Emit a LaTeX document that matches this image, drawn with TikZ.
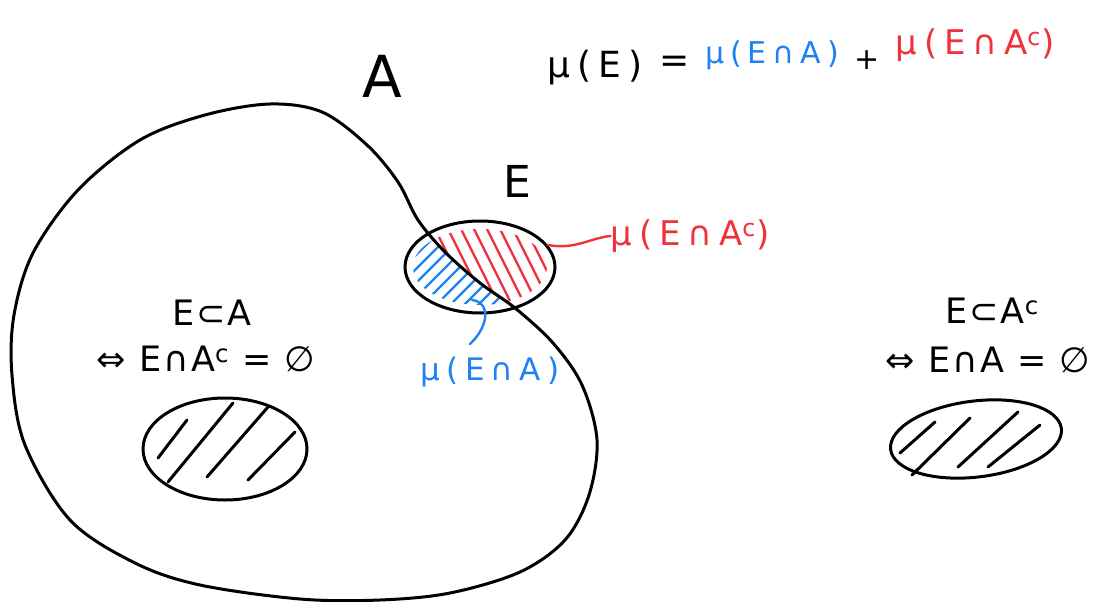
\documentclass[tikz,border=0pt]{standalone}
\usepackage{fontspec}
\setmainfont{DejaVu Sans}
\newfontfamily\hand[LetterSpace=20]{DejaVu Sans}
\newfontfamily\handt[LetterSpace=6]{DejaVu Sans}
\usetikzlibrary{shapes.geometric}
\definecolor{hblue}{RGB}{30,130,240}
\definecolor{hred}{RGB}{240,50,60}
\begin{document}
\begin{tikzpicture}[x=1pt,y=-1pt,line cap=round,line join=round,
  ink/.style={line width=3pt,black},
  hatch/.style={line width=2.4pt},
  lead/.style={line width=2.4pt},
  txt/.style={inner sep=0pt},
  eqs/.style={txt,font=\hand\fontsize{36}{40}\selectfont},
  lab/.style={txt,font=\hand\fontsize{34}{40}\selectfont},
  sets/.style={txt,font=\handt\fontsize{35}{42}\selectfont}]
\useasboundingbox (0,0) rectangle (1095,602);
\fill[white] (0,0) rectangle (1095,602);

% blob A outline (saved)
\path[save path=\blob] plot[smooth cycle,tension=0.55] coordinates {
 (140,140) (205,115) (270,104) (322,112) (367,145) (398,182) (418,220)
 (445,252) (480,283) (515,308) (553,343) (582,385) (597,440) (589,495)
 (565,540) (520,572) (450,593) (380,600) (300,599) (200,585) (135,563)
 (70,520) (25,445) (12,375) (14,315) (33,253) (78,190)};

% red hatching in E
\begin{scope}
 \clip (480,267) ellipse [x radius=67, y radius=38];
 \foreach \i in {-7,...,7}
   \draw[hred,hatch] ({480+\i*13-40},187) -- ({480+\i*13+40},347);
\end{scope}
% blue part (E inside A)
\begin{scope}
 \clip (480,267) ellipse [x radius=74, y radius=44];
 \clip[use path=\blob];
 \fill[white] (380,200) rectangle (580,340);
\end{scope}
\begin{scope}
 \clip (480,267) ellipse [x radius=67, y radius=38];
 \clip[use path=\blob];
 \foreach \i in {-7,...,7}
   \draw[hblue,hatch] ({460+\i*14-45},{267+45}) -- ({460+\i*14+45},{267-45});
\end{scope}

% outlines
\draw[ink,use path=\blob];
\node[draw,ellipse,ink,minimum width=150pt,minimum height=92pt,inner sep=0pt] (Eell) at (480,267) {};

% labels
\node[txt,font=\hand\fontsize{58}{64}\selectfont] (lA) at (382,76) {A};
\node[txt,font=\hand\fontsize{44}{50}\selectfont] (lE) at (517,181) {E};

% equation
\node[eqs] (eq1) at (595,68) {μ(E)};
\node[eqs] (eq2) at (675,64) {=};
\node[txt,font=\hand\fontsize{30}{36}\selectfont,text=hblue] (eq3) at (772,55) {μ(E∩A)};
\node[txt,font=\hand\fontsize{30}{36}\selectfont] (eq4) at (867,60) {+};
\node[lab,text=hred] (eq5) at (975,45) {μ(E∩A\textsuperscript{c})};

% region labels with leaders
\node[lab,text=hred] (lr) at (690,236) {μ(E∩A\textsuperscript{c})};
\node[txt,font=\hand\fontsize{31}{36}\selectfont,text=hblue] (lb) at (490,372) {μ(E∩A)};
\coordinate (bs) at (472,300);
\coordinate (be) at (470,344);
\draw[hred,lead] (Eell.18) .. controls (575,250) and (590,238) .. (lr.west);
\draw[hblue,lead] (bs) .. controls (490,302) and (490,325) .. (be);

% left: E subset A
\node[sets] (l1) at (212,313) {E⊂A};
\node[sets] (l2) at (206,359) {⇔ E∩A\textsuperscript{c} = ∅};
\node[draw,ellipse,ink,minimum width=164pt,minimum height=102pt,inner sep=0pt] (e1) at (225,449) {};
\draw[ink] (158,458) -- (187,420);
\draw[ink] (168,482) -- (233,403);
\draw[ink] (207,477) -- (268,407);
\draw[ink] (248,480) -- (295,432);

% right: E subset A^c
\node[sets] (r1) at (992,311) {E⊂A\textsuperscript{c}};
\node[sets] (r2) at (988,360) {⇔ E∩A = ∅};
\node[draw,ellipse,ink,minimum width=172pt,minimum height=76pt,inner sep=0pt,rotate=7] (e2) at (976,439) {};
\draw[ink] (900,453) -- (935,422);
\draw[ink] (912,475) -- (970,418);
\draw[ink] (958,467) -- (1018,412);
\draw[ink] (988,467) -- (1040,425);
\end{tikzpicture}
\end{document}
